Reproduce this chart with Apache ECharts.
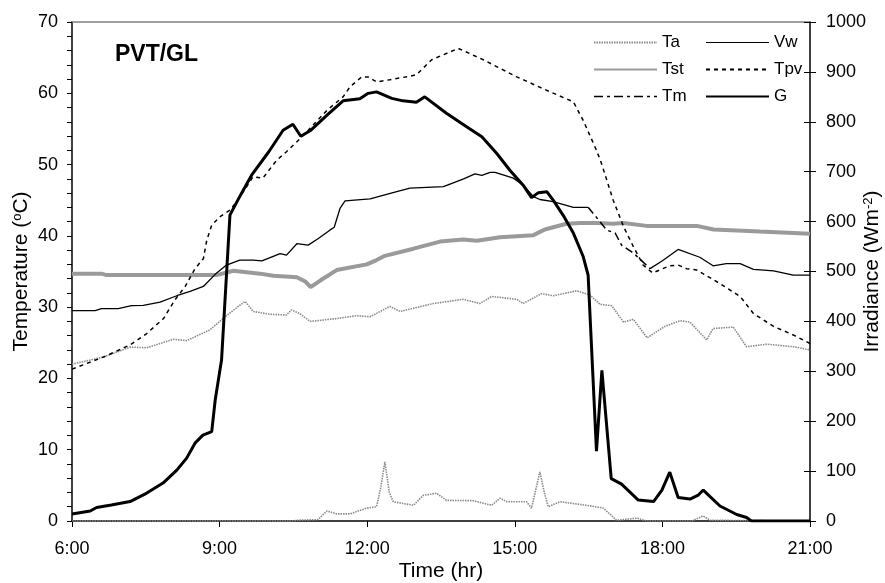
<!DOCTYPE html>
<html>
<head>
<meta charset="utf-8">
<script src="https://cdn.jsdelivr.net/npm/echarts@6/dist/echarts.min.js"></script>
<style>
html,body{margin:0;padding:0;background:#fff;}
#chart{width:885px;height:583px;}
</style>
</head>
<body>
<div id="chart"></div>
<script>
// ---- data (time in hours) ----
var xTicks = [6, 9, 12, 15, 18, 21];

var gTime = [6.0, 6.37, 6.5, 6.8, 7.18, 7.52, 7.85, 8.13, 8.33, 8.5, 8.66, 8.84, 8.91, 9.04, 9.21, 9.37, 9.48, 9.65, 10.0, 10.29, 10.49, 10.65, 10.84, 11.2, 11.51, 11.85, 12.02, 12.19, 12.5, 12.73, 13.0, 13.17, 13.61, 14.02, 14.33, 14.63, 14.9, 15.17, 15.34, 15.48, 15.65, 15.78, 15.98, 16.19, 16.39, 16.49, 16.66, 16.77, 16.96, 17.17, 17.51, 17.82, 17.99, 18.15, 18.32, 18.56, 18.73, 18.83, 19.17, 19.51, 19.71, 19.81, 20.5, 21.0];
var gVal  = [14, 20, 27, 32, 39, 56, 76, 102, 126, 156, 172, 179, 242, 323, 613, 643, 663, 693, 740, 783, 795, 771, 782, 815, 842, 846, 857, 860, 847, 842, 839, 850, 817, 790, 770, 737, 703, 673, 648, 658, 660, 643, 613, 577, 530, 493, 140, 302, 85, 74, 42, 39, 62, 98, 47, 44, 52, 62, 30, 13, 7, 0, 0, 0];

var tpvTime = [6.0, 6.64, 7.18, 7.52, 7.86, 8.09, 8.3, 8.5, 8.67, 8.74, 8.84, 9.01, 9.21, 9.41, 9.68, 9.88, 10.16, 10.36, 10.57, 10.8, 11.18, 11.51, 11.65, 11.89, 12.02, 12.19, 12.46, 12.87, 13.0, 13.31, 13.85, 14.36, 15.04, 15.72, 16.19, 16.39, 16.66, 16.76, 17.0, 17.21, 17.41, 17.61, 17.8, 18.15, 18.32, 18.49, 18.7, 19.17, 19.58, 19.85, 20.26, 20.66, 21.0];
var tpvVal  = [21.3, 23.0, 24.7, 26.3, 28.4, 31.0, 32.9, 35.4, 36.8, 39.4, 41.5, 42.7, 43.6, 45.4, 48.3, 48.1, 50.6, 51.8, 53.2, 54.8, 57.6, 59.5, 60.9, 62.3, 62.3, 61.6, 61.9, 62.4, 62.6, 64.7, 66.3, 64.7, 62.3, 60.2, 58.8, 56.2, 52.0, 50.2, 45.0, 41.3, 38.5, 35.9, 34.8, 35.8, 35.9, 35.4, 35.2, 33.3, 31.5, 29.1, 27.3, 26.1, 24.9];

var tmTime = [6.0, 6.47, 6.6, 6.94, 7.21, 7.45, 7.79, 8.13, 8.4, 8.67, 8.91, 9.14, 9.41, 9.68, 9.86, 10.23, 10.36, 10.57, 10.8, 11.0, 11.24, 11.33, 11.45, 11.55, 12.06, 12.6, 12.87, 13.55, 13.96, 14.19, 14.33, 14.5, 14.6, 14.97, 15.17, 15.38, 15.51, 15.78, 16.19, 16.49, 16.73, 16.87, 17.04, 17.17, 17.41, 17.75, 18.0, 18.32, 18.76, 19.03, 19.3, 19.58, 19.85, 20.26, 20.66, 21.0];
var tmVal  = [29.5, 29.5, 29.8, 29.8, 30.2, 30.25, 30.7, 31.6, 32.2, 32.9, 34.6, 35.9, 36.6, 36.6, 36.5, 37.5, 37.3, 38.9, 38.7, 39.6, 40.8, 41.2, 43.9, 44.9, 45.2, 46.2, 46.7, 46.9, 48.0, 48.7, 48.5, 48.9, 48.9, 48.1, 47.1, 45.5, 45.1, 44.8, 44.0, 44.0, 42.0, 40.8, 40.4, 38.7, 37.6, 35.4, 36.5, 38.1, 37.0, 35.8, 36.1, 36.1, 35.3, 35.1, 34.5, 34.5];
var tmDashFrom = 16.49, tmDashTo = 17.75;

var tstTime = [6.0, 6.6, 6.7, 8.94, 9.28, 9.82, 10.09, 10.57, 10.74, 10.85, 11.06, 11.38, 11.99, 12.19, 12.36, 12.94, 13.48, 13.95, 14.23, 14.7, 15.38, 15.61, 16.05, 16.33, 16.66, 17.0, 17.21, 17.68, 18.7, 19.04, 19.98, 21.0];
var tstVal  = [34.7, 34.7, 34.5, 34.5, 35.1, 34.7, 34.4, 34.2, 33.6, 32.8, 33.8, 35.2, 36.0, 36.6, 37.2, 38.2, 39.2, 39.5, 39.3, 39.8, 40.1, 40.9, 41.7, 41.8, 41.8, 41.7, 41.8, 41.4, 41.4, 40.9, 40.6, 40.3];

var taTime = [6.0, 6.64, 7.18, 7.52, 8.06, 8.33, 8.8, 9.14, 9.38, 9.52, 9.68, 10.02, 10.36, 10.46, 10.63, 10.84, 11.38, 11.79, 12.06, 12.46, 12.67, 13.34, 13.95, 14.29, 14.53, 15.04, 15.17, 15.54, 15.78, 16.26, 16.53, 16.73, 16.97, 17.21, 17.41, 17.69, 18.05, 18.36, 18.56, 18.9, 19.03, 19.44, 19.71, 20.12, 20.66, 21.0];
var taVal  = [22.0, 23.0, 24.4, 24.3, 25.5, 25.3, 26.8, 28.8, 30.1, 30.8, 29.4, 29.0, 28.9, 29.6, 29.1, 28.0, 28.4, 28.8, 28.65, 30.1, 29.4, 30.5, 31.1, 30.5, 31.5, 31.1, 30.5, 31.9, 31.6, 32.3, 31.7, 30.4, 30.2, 27.9, 28.3, 25.7, 27.3, 28.1, 27.9, 25.4, 27.0, 27.2, 24.45, 24.8, 24.45, 24.0];

var vwTime = [6.0, 10.5, 10.57, 11.0, 11.18, 11.38, 11.65, 11.99, 12.19, 12.27, 12.36, 12.45, 12.53, 12.94, 13.14, 13.41, 13.61, 14.15, 14.53, 14.7, 14.84, 15.24, 15.34, 15.43, 15.51, 15.6, 15.68, 15.92, 16.46, 16.8, 17.07, 17.48, 17.68, 18.6, 18.76, 18.83, 18.97, 21.0];
var vwVal  = [0, 0, 0.1, 0.2, 1.4, 1.0, 1.0, 1.8, 2.0, 4.5, 8.3, 4.0, 2.7, 2.2, 3.6, 3.9, 2.9, 2.85, 2.2, 3.2, 2.7, 2.7, 1.8, 4.5, 6.9, 4.0, 2.0, 2.7, 2.2, 1.8, 0.1, 0.4, 0, 0, 0.5, 0.7, 0.1, 0];

function zip(t, v) { return t.map(function (x, i) { return [x, v[i]]; }); }

var tmSolid = tmTime.map(function (t, i) {
  return [t, (t <= tmDashFrom || t >= tmDashTo) ? tmVal[i] : null];
});
var tmDash = [];
tmTime.forEach(function (t, i) { if (t >= tmDashFrom && t <= tmDashTo) tmDash.push([t, tmVal[i]]); });

var FONT = 'Liberation Sans, Arial, sans-serif';
var GRAY = '#9a9a9a';
var DOT = '#8a8a8a';

var chart = echarts.init(document.getElementById('chart'), null, { renderer: 'canvas' });

var axisLbl = { color: '#000', fontSize: 18, fontFamily: FONT };
var legText = { fontSize: 17, color: '#000', fontFamily: FONT };
var hideSym = { opacity: 0 };
var nameStyle = {
  fontSize: 21, color: '#000', fontFamily: FONT,
  rich: { sup: { fontSize: 13, color: '#000', fontFamily: FONT, verticalAlign: 'top', lineHeight: 13 } }
};

chart.setOption({
  backgroundColor: '#fff',
  animation: false,
  textStyle: { fontFamily: FONT },
  title: {
    text: 'PVT/GL', left: 110, top: 38,
    textStyle: { fontSize: 23, fontWeight: 'bold', color: '#000', fontFamily: FONT }
  },
  grid: { left: 72, right: 75, top: 22, bottom: 62, containLabel: false, outerBoundsMode: 'none' },
  legend: [
    {
      orient: 'vertical', left: 588, top: 29, itemWidth: 63, itemHeight: 17, itemGap: 10,
      textStyle: legText, itemStyle: hideSym,
      data: [
        { name: 'Ta', itemStyle: hideSym },
        { name: 'Tst', itemStyle: hideSym },
        { name: 'Tm', itemStyle: hideSym, lineStyle: { color: '#000', width: 1.5, type: [9, 4, 3, 4] } }
      ]
    },
    {
      orient: 'vertical', left: 700, top: 29, itemWidth: 63, itemHeight: 17, itemGap: 10,
      textStyle: legText, itemStyle: hideSym,
      data: [
        { name: 'Vw', itemStyle: hideSym, lineStyle: { color: '#000', width: 1.2, type: 'solid' } },
        { name: 'Tpv', itemStyle: hideSym },
        { name: 'G', itemStyle: hideSym }
      ]
    }
  ],
  xAxis: [
    {
      type: 'value', min: 6, max: 21, interval: 3,
      name: 'Time (hr)', nameLocation: 'middle', nameGap: 40, nameMoveOverlap: false,
      nameTextStyle: { fontSize: 21, color: '#000', fontFamily: FONT },
      axisLine: { show: true, onZero: false, lineStyle: { color: '#000', width: 1.5 } },
      axisTick: { show: true, inside: false, length: 6, lineStyle: { color: '#000', width: 1 } },
      axisLabel: Object.assign({ margin: 19, formatter: function (v) { return v + ':00'; } }, axisLbl),
      splitLine: { show: false }
    },
    {
      type: 'value', min: 6, max: 21, position: 'top',
      axisLine: { show: true, onZero: false, lineStyle: { color: '#808080', width: 1.5 } },
      axisTick: { show: false }, axisLabel: { show: false }, splitLine: { show: false }
    }
  ],
  yAxis: [
    {
      type: 'value', min: 0, max: 70, interval: 10, position: 'left',
      name: 'Temperature ({sup|o}C)', nameLocation: 'middle', nameGap: 40, nameRotate: 90,
      nameMoveOverlap: false,
      nameTextStyle: nameStyle,
      axisLine: { show: true, onZero: false, lineStyle: { color: '#000', width: 1.5 } },
      axisTick: { show: true, inside: false, length: 5, lineStyle: { color: '#000' } },
      minorTick: { show: true, splitNumber: 5, length: 5, lineStyle: { color: '#000' } },
      axisLabel: Object.assign({ margin: 14 }, axisLbl),
      splitLine: { show: false }
    },
    {
      type: 'value', min: 0, max: 1000, interval: 100, position: 'right',
      name: 'Irradiance (Wm{sup|-2})', nameLocation: 'middle', nameGap: 52, nameRotate: 90,
      nameMoveOverlap: false,
      nameTextStyle: nameStyle,
      axisLine: { show: true, onZero: false, lineStyle: { color: '#000', width: 1.5 } },
      axisTick: { show: true, inside: false, length: 6, lineStyle: { color: '#000' } },
      axisLabel: Object.assign({ margin: 16, formatter: function (v) { return String(v); } }, axisLbl),
      splitLine: { show: false }
    },
    {
      type: 'value', min: 0, max: 1000, interval: 100, position: 'right',
      axisLine: { show: false },
      axisTick: { show: true, inside: true, length: 6, lineStyle: { color: '#000' } },
      axisLabel: { show: false }, splitLine: { show: false }
    }
  ],
  series: [
    {
      name: 'Vw', type: 'line', yAxisIndex: 0, symbol: 'none', data: zip(vwTime, vwVal),
      lineStyle: { color: DOT, width: 1.6, type: [1.5, 1] }, itemStyle: { color: DOT }, z: 2
    },
    {
      name: 'Ta', type: 'line', yAxisIndex: 0, symbol: 'none', data: zip(taTime, taVal),
      lineStyle: { color: DOT, width: 1.6, type: [1.5, 1] }, itemStyle: { color: DOT }, z: 2
    },
    {
      name: 'Tst', type: 'line', yAxisIndex: 0, symbol: 'none', data: zip(tstTime, tstVal),
      lineStyle: { color: GRAY, width: 4 }, itemStyle: { color: GRAY }, z: 3
    },
    {
      name: 'Tm', type: 'line', yAxisIndex: 0, symbol: 'none', data: tmSolid, connectNulls: false,
      lineStyle: { color: '#000', width: 1.3 }, itemStyle: { color: '#000' }, z: 4
    },
    {
      name: 'Tm', type: 'line', yAxisIndex: 0, symbol: 'none', data: tmDash,
      lineStyle: { color: '#000', width: 1.5, type: [8, 4, 3, 4] }, itemStyle: { color: '#000' }, z: 4
    },
    {
      name: 'Tpv', type: 'line', yAxisIndex: 0, symbol: 'none', data: zip(tpvTime, tpvVal),
      lineStyle: { color: '#000', width: 1.5, type: [4, 4] }, itemStyle: { color: '#000' }, z: 5
    },
    {
      name: 'G', type: 'line', yAxisIndex: 1, symbol: 'none', data: zip(gTime, gVal),
      lineStyle: { color: '#000', width: 3 }, itemStyle: { color: '#000' }, z: 6
    }
  ]
});
</script>
</body>
</html>
